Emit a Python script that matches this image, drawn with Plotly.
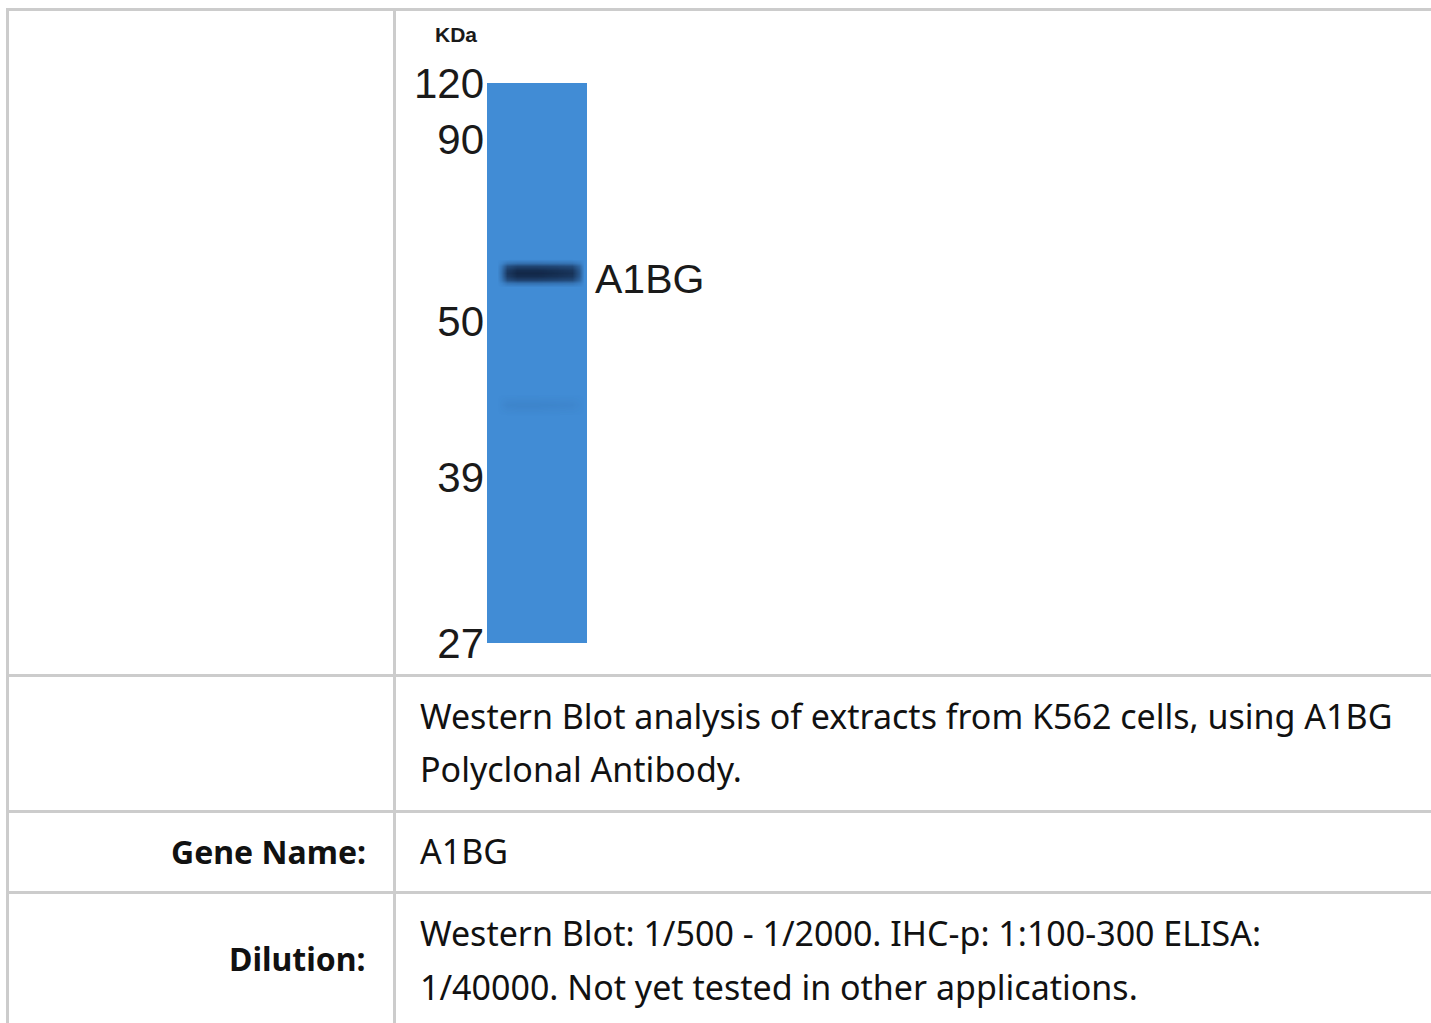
import plotly.graph_objects as go

W, H = 1431, 1023

# ---------------- blot data ----------------
marker_kda = [120, 90, 50, 39, 27]
marker_rf = [0.0, 0.100, 0.425, 0.704, 1.0]      # relative migration along the lane
target_name = "A1BG"
target_rf = 0.339
lane_name = ["K562"]

band_cols = [0.10, 0.14, 0.20, 0.30, 0.50, 0.70, 0.85, 0.92, 0.97]
band_rows = [0.314, 0.321, 0.327, 0.333, 0.339, 0.345, 0.351, 0.357, 0.364,
             0.555, 0.575, 0.595]
band_z = [
    [0, 0.00, 0.00, 0.00, 0.00, 0.00, 0.00, 0.00, 0],
    [0, 0.08, 0.25, 0.30, 0.30, 0.28, 0.26, 0.16, 0],
    [0, 0.20, 0.62, 0.74, 0.74, 0.70, 0.66, 0.40, 0],
    [0, 0.26, 0.80, 0.95, 0.95, 0.90, 0.85, 0.52, 0],
    [0, 0.28, 0.85, 1.00, 1.00, 0.95, 0.90, 0.55, 0],
    [0, 0.26, 0.80, 0.95, 0.95, 0.90, 0.85, 0.52, 0],
    [0, 0.20, 0.62, 0.74, 0.74, 0.70, 0.66, 0.40, 0],
    [0, 0.08, 0.25, 0.30, 0.30, 0.28, 0.26, 0.16, 0],
    [0, 0.00, 0.00, 0.00, 0.00, 0.00, 0.00, 0.00, 0],
    [0, 0.00, 0.00, 0.00, 0.00, 0.00, 0.00, 0.00, 0],
    [0, 0.03, 0.07, 0.08, 0.08, 0.07, 0.06, 0.03, 0],
    [0, 0.00, 0.00, 0.00, 0.00, 0.00, 0.00, 0.00, 0],
]

# ---------------- table data ----------------
row_labels = ["", "", "Gene Name:", "Dilution:"]
description_lines = ["Western Blot analysis of extracts from K562 cells, using A1BG",
                     "Polyclonal Antibody."]
gene_name = "A1BG"
dilution_lines = ["Western Blot: 1/500 - 1/2000. IHC-p: 1:100-300 ELISA:",
                  "1/40000. Not yet tested in other applications."]


def px(x):
    return x / W


def py(y):
    return 1 - y / H


LANE_BLUE = "#418cd5"
GRID = "#cccccc"
TXT = "#111111"
TFONT = "Noto Sans"
MFONT = "Liberation Sans, Arial, sans-serif"

fig = go.Figure()

# lane background
fig.add_trace(go.Heatmap(
    x=[0, 1], y=[0, 1], z=[[0]],
    colorscale=[[0, LANE_BLUE], [1, LANE_BLUE]],
    showscale=False, hoverinfo="skip", name=lane_name[0],
))
# bands
fig.add_trace(go.Heatmap(
    x=band_cols, y=band_rows, z=band_z, zmin=0, zmax=1,
    zsmooth="best",
    colorscale=[[0, "rgba(22,46,86,0)"], [1, "rgba(16,34,64,0.95)"]],
    showscale=False, hoverinfo="skip",
))

fig.update_xaxes(domain=[px(487), px(587)], range=[0, 1], visible=False,
                 fixedrange=True, automargin=False)
fig.update_yaxes(
    domain=[py(643), py(83)], range=[1, 0], automargin=False,
    tickvals=marker_rf, ticktext=[str(k) for k in marker_kda],
    tickfont=dict(family=MFONT, size=42, color="#1a1a1a"),
    ticks="", showgrid=False, zeroline=False, showline=False,
    ticklabelstandoff=2,
)

annotations = []
# KDa unit label
annotations.append(dict(text="KDa", xref="paper", yref="paper", x=px(456), y=py(35),
                        xanchor="center", yanchor="middle", showarrow=False,
                        font=dict(family=MFONT, size=21, color="#1a1a1a", weight="bold")))
# target label
annotations.append(dict(text=target_name, xref="paper", yref="y", x=px(593), y=target_rf,
                        xanchor="left", yanchor="middle", yshift=-6, showarrow=False,
                        font=dict(family=MFONT, size=41, color="#1a1a1a")))


# table texts
def val(text, x, y):
    annotations.append(dict(text=text, xref="paper", yref="paper", x=px(x), y=py(y),
                            xanchor="left", yanchor="middle", showarrow=False,
                            font=dict(family=TFONT, size=34, color=TXT)))


def lab(text, x, y):
    annotations.append(dict(text=text, xref="paper", yref="paper", x=px(x), y=py(y),
                            xanchor="right", yanchor="middle", showarrow=False,
                            font=dict(family=TFONT, size=32, color=TXT, weight="bold")))


val(description_lines[0], 418, 716)
val(description_lines[1], 418, 769)
lab(row_labels[2], 368, 851)
val(gene_name, 418, 851)
lab(row_labels[3], 368, 958)
val(dilution_lines[0], 418, 933)
val(dilution_lines[1], 418, 987)

# table grid
shapes = []


def hline(y, x0=6, x1=W):
    shapes.append(dict(type="line", xref="paper", yref="paper", x0=px(x0), x1=px(x1),
                       y0=py(y), y1=py(y), line=dict(color=GRID, width=3)))


def vline(x, y0=8, y1=H):
    shapes.append(dict(type="line", xref="paper", yref="paper", x0=px(x), x1=px(x),
                       y0=py(y0), y1=py(y1), line=dict(color=GRID, width=3)))


hline(9.5)
hline(675.5)
hline(811.5)
hline(892.5)
vline(7.5)
vline(394.5)

fig.update_layout(
    width=W, height=H, margin=dict(l=0, r=0, t=0, b=0, autoexpand=False),
    paper_bgcolor="white", plot_bgcolor="white",
    showlegend=False, annotations=annotations, shapes=shapes,
)

fig.write_html("out.html", config={"displayModeBar": False},
               post_script="document.body.style.margin='0px';document.body.style.overflow='hidden';")
